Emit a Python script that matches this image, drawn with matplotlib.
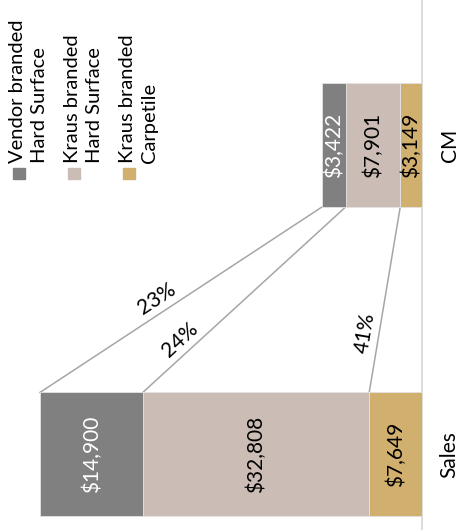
import numpy as np
import matplotlib
matplotlib.use("Agg")
import matplotlib.pyplot as plt
from matplotlib.patches import Rectangle

plt.rcParams['font.family'] = ['Lato', 'DejaVu Sans']

# data (legend order)
categories = ["Sales", "CM"]
segment_names = ["Vendor branded\nHard Surface", "Kraus branded\nHard Surface", "Kraus branded\nCarpetile"]
sales = [14900, 32808, 7649]
cm = [3422, 7901, 3149]

colors = ["#808080", "#CBBDB5", "#D1AF6E"]
text_colors = ["white", "black", "black"]
label_t = [0.44, 0.23, 0.31]  # where the % label sits along each connector

fig = plt.figure(figsize=(4.58, 5.30), dpi=100)
ax = fig.add_axes([0, 0, 1, 1])
ax.set_xlim(61160, -5220)
ax.set_ylim(-0.245, 1.469)
ax.axis('off')

ax.axvline(0, color='#d9d9d9', lw=1.3, zorder=1)

bar_h = 0.4
values = [sales, cm]
tops = []
for yp, vals in enumerate(values):
    cum = 0
    seg_tops = {}
    # stack from baseline: carpetile, kraus hard, vendor
    for i in [2, 1, 0]:
        v = vals[i]
        ax.barh(yp, v, left=cum, height=bar_h, color=colors[i],
                edgecolor='#e3e3e3', linewidth=0.6, zorder=2)
        ax.text(cum + v / 2, yp, f"${v:,}", rotation=90, ha='center', va='center',
                color=text_colors[i], fontsize=15, zorder=3)
        cum += v
        seg_tops[i] = cum
    tops.append(seg_tops)
    ax.text(-3990, yp, categories[yp], rotation=90, ha='center', va='center',
            fontsize=15, color='black')

# connectors with margin %
fig.canvas.draw()
for i in range(3):
    x0, y0 = tops[0][i], bar_h / 2
    x1, y1 = tops[1][i], 1 - bar_h / 2
    ax.plot([x0, x1], [y0, y1], color='#a6a6a6', lw=1.1, zorder=1)
    p0 = ax.transData.transform((x0, y0))
    p1 = ax.transData.transform((x1, y1))
    d = p1 - p0
    ang = np.degrees(np.arctan2(d[1], d[0]))
    th = np.radians(ang)
    t = label_t[i]
    px = p0 + t * d
    off = 14
    px = px + off * np.array([-np.sin(th), np.cos(th)])
    xd, yd = ax.transData.inverted().transform(px)
    pct = round(cm[i] / sales[i] * 100)
    ax.text(xd, yd, f"{pct}%", rotation=ang, rotation_mode='anchor',
            ha='center', va='center', fontsize=15, color='black')

# legend drawn by hand (rotated)
W, H = 458, 530
for k in range(3):
    cx = 19 + 55 * k
    fig.patches.append(Rectangle(((cx - 6) / W, 1 - 179 / H), 12 / W, 11 / H,
                                 transform=fig.transFigure, color=colors[k]))
    fig.text((cx - 10) / W, 1 - 163 / H, segment_names[k], rotation=90,
             ha='left', va='bottom', multialignment='left', fontsize=14.5,
             linespacing=1.35)

fig.savefig('out.png', dpi=100)
